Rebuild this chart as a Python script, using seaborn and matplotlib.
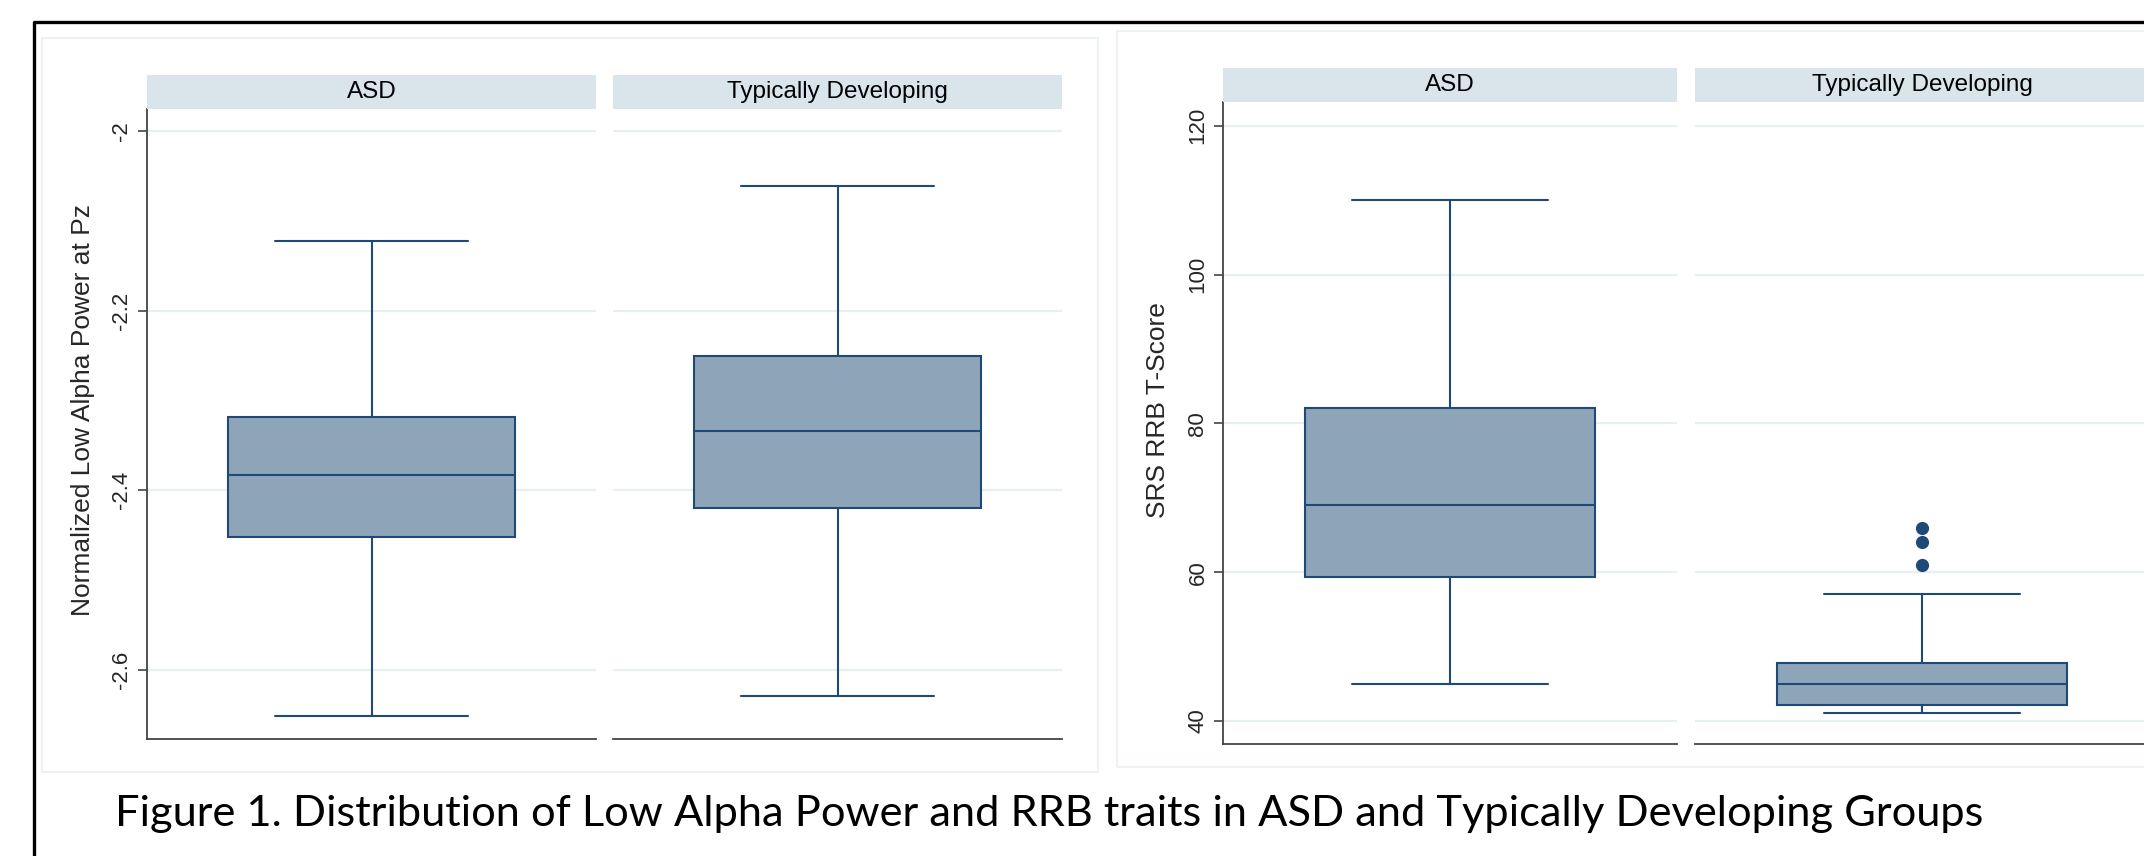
import numpy as np
import pandas as pd
import matplotlib
matplotlib.use('Agg')
import matplotlib.pyplot as plt
from matplotlib.lines import Line2D
from matplotlib.patches import Rectangle
import seaborn as sns

# --- data ---
groups = ['ASD', 'Typically Developing']
# five-number summaries: lower whisker, Q1, median, Q3, upper whisker
alpha_asd = [-2.651, -2.452, -2.383, -2.319, -2.122]
alpha_td = [-2.629, -2.420, -2.334, -2.251, -2.061]
rrb_asd = [45.0, 59.3, 69.0, 82.0, 110.0]
rrb_td = [41.1, 42.2, 45.0, 47.8, 57.0]
rrb_td_outliers = [61.0, 64.0, 66.0]

alpha_ticks = [-2.6, -2.4, -2.2, -2.0]
alpha_ticklabels = ['-2.6', '-2.4', '-2.2', '-2']
rrb_ticks = [40, 60, 80, 100, 120]
rrb_ticklabels = ['40', '60', '80', '100', '120']

alpha_label = 'Normalized Low Alpha Power at Pz'
rrb_label = 'SRS RRB T-Score'
caption = ('Figure 1. Distribution of Low Alpha Power and RRB traits '
           'in ASD and Typically Developing Groups')

# --- styling ---
BOX_FILL = '#8ea4b8'
LINE = '#1f4a78'
STRIP = '#d9e5eb'
GRID = '#e8eff1'
SPINE = '#444444'
PANEL_EDGE = '#eaf0f2'

W, H = 2144, 856

sns.set_theme(style='white')
plt.rcParams['font.family'] = ['Liberation Sans', 'DejaVu Sans']


def px_rect(x0, y0, x1, y1):
    # pixel box (top-left origin) -> figure fraction rect
    return [x0 / W, 1 - y1 / H, (x1 - x0) / W, (y1 - y0) / H]


def add_strip(fig, x0, y0, x1, y1, label):
    sax = fig.add_axes(px_rect(x0, y0, x1, y1))
    sax.set_facecolor(STRIP)
    sax.set_xticks([])
    sax.set_yticks([])
    for sp in sax.spines.values():
        sp.set_visible(False)
    sax.text(0.5, 0.5, label, ha='center', va='center', fontsize=17.5,
             color='black', transform=sax.transAxes)


def draw_box(ax, vals, ylim, ticks, ticklabels, first, outliers=None):
    sns.boxplot(y=vals, ax=ax, width=0.64, whis=(0, 100), color=BOX_FILL,
                linecolor=LINE, linewidth=1.5, saturation=1, capwidths=0.43)
    if outliers is not None:
        sns.stripplot(y=outliers, ax=ax, jitter=False, color=LINE, size=9.5,
                      linewidth=0)
    ax.set_xlim(-0.5, 0.5)
    ax.set_ylim(*ylim)
    ax.set_yticks(ticks)
    ax.set_xticks([])
    ax.set_xlabel('')
    ax.set_ylabel('')
    ax.yaxis.grid(True, color=GRID, lw=1.6)
    ax.set_axisbelow(True)
    ax.set_facecolor('white')
    ax.spines['top'].set_visible(False)
    ax.spines['right'].set_visible(False)
    ax.spines['bottom'].set_color(SPINE)
    ax.spines['bottom'].set_linewidth(1.3)
    if first:
        ax.spines['left'].set_color(SPINE)
        ax.spines['left'].set_linewidth(1.3)
        ax.set_yticklabels(ticklabels, rotation=90, va='center', fontsize=16)
        ax.tick_params(axis='y', left=True, length=6.5, width=1.2,
                       color=SPINE, pad=4)
    else:
        ax.spines['left'].set_visible(False)
        ax.tick_params(axis='y', left=False, labelleft=False)


fig = plt.figure(figsize=(W / 100, H / 100), dpi=100)
fig.patch.set_facecolor('white')

# light outline around each of the two graphs
fig.add_artist(Rectangle((42 / W, 1 - 772 / H), (1098 - 42) / W, (772 - 38) / H,
                         transform=fig.transFigure, fill=False,
                         ec=PANEL_EDGE, lw=1.2))
fig.add_artist(Rectangle((1117 / W, 1 - 767 / H), (2200 - 1117) / W, (767 - 31) / H,
                         transform=fig.transFigure, fill=False,
                         ec=PANEL_EDGE, lw=1.2))

# left graph: low alpha power
alpha_ylim = (-2.677, -1.9755)
ax1 = fig.add_axes(px_rect(147, 109, 596, 739))
draw_box(ax1, alpha_asd, alpha_ylim, alpha_ticks, alpha_ticklabels, True)
ax2 = fig.add_axes(px_rect(613, 109, 1062, 739))
draw_box(ax2, alpha_td, alpha_ylim, alpha_ticks, alpha_ticklabels, False)
add_strip(fig, 147, 75, 596, 109, groups[0])
add_strip(fig, 613, 75, 1062, 109, groups[1])
fig.text(83 / W, 1 - 410 / H, alpha_label, rotation=90, ha='center',
         va='center', fontsize=19)

# right graph: SRS RRB
rrb_ylim = (36.9, 123.2)
ax3 = fig.add_axes(px_rect(1223, 102, 1677, 744))
draw_box(ax3, rrb_asd, rrb_ylim, rrb_ticks, rrb_ticklabels, True)
ax4 = fig.add_axes(px_rect(1695, 102, 2149, 744))
draw_box(ax4, rrb_td, rrb_ylim, rrb_ticks, rrb_ticklabels, False,
         outliers=rrb_td_outliers)
add_strip(fig, 1223, 68, 1677, 102, groups[0])
add_strip(fig, 1695, 68, 2149, 102, groups[1])
fig.text(1158 / W, 1 - 410 / H, rrb_label, rotation=90, ha='center',
         va='center', fontsize=19)

# thick black frame (cropped on the right and bottom)
fig.add_artist(Line2D([34 / W, 34 / W, 1.01], [-0.01, 1 - 22 / H, 1 - 22 / H],
                      transform=fig.transFigure, color='black', lw=2.4))

fig.text(115 / W, 1 - 826 / H, caption, ha='left', va='baseline',
         fontsize=31.2, family=['Lato', 'DejaVu Sans'], color='black')

fig.savefig('out.png', dpi=100)
